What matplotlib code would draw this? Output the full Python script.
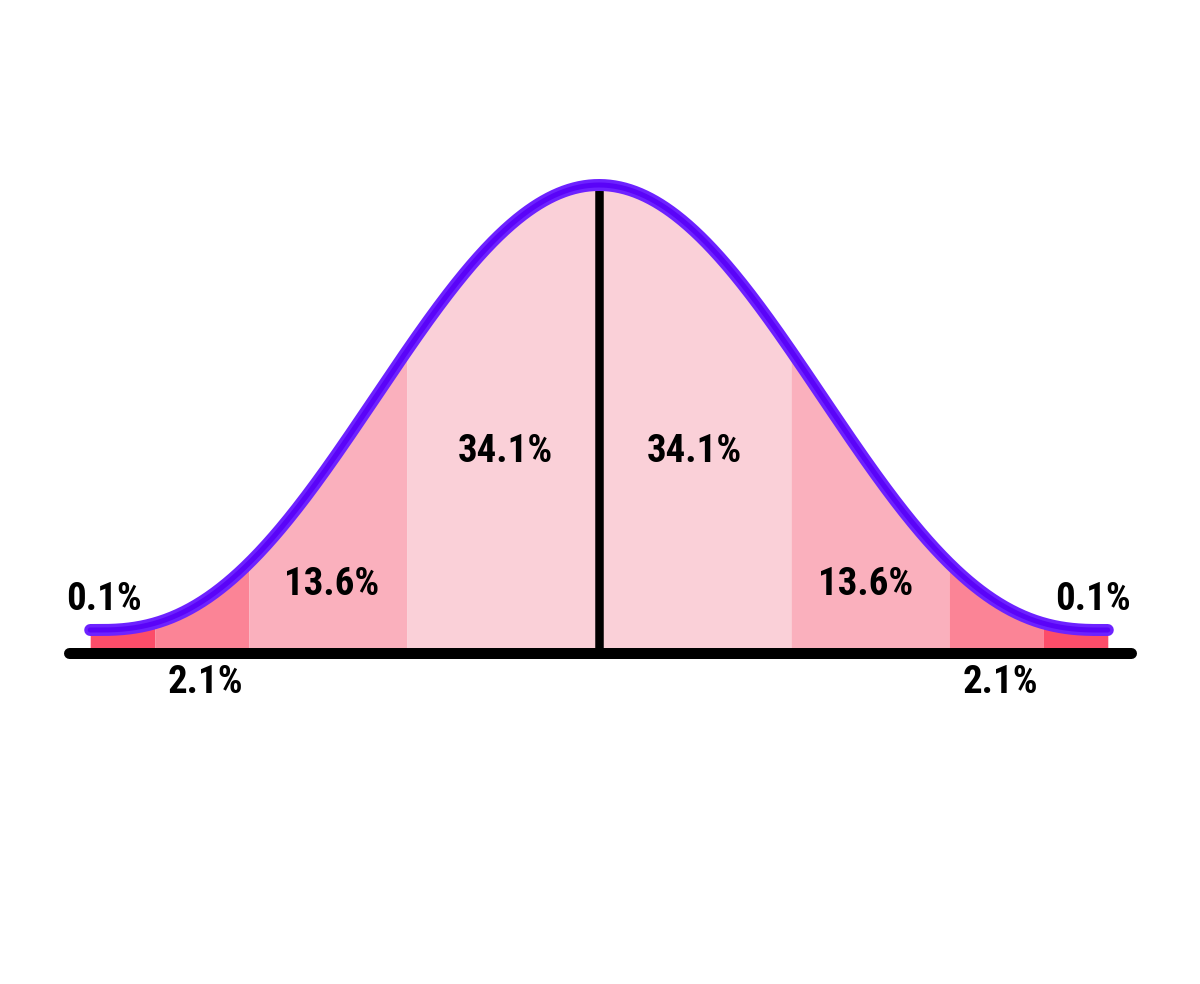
import numpy as np
import matplotlib
matplotlib.use("Agg")
import matplotlib.pyplot as plt
from matplotlib import font_manager

# ---- data ----
boundaries = [-2.65, -2.3125, -1.823, -1.0, 0.0, 1.0, 1.823, 2.3125, 2.65]
labels = ["0.1%", "2.1%", "13.6%", "34.1%", "34.1%", "13.6%", "2.1%", "0.1%"]
region_colors = ["#FC4D69", "#FB8496", "#FAB0BD", "#FAD0D8",
                 "#FAD0D8", "#FAB0BD", "#FB8496", "#FC4D69"]
# label anchor positions (z, height) for each label
label_x = [-2.58, -2.05, -1.395, -0.49, 0.495, 1.39, 2.09, 2.575]
label_y = [0.045, -0.141, 0.078, 0.377, 0.377, 0.078, -0.141, 0.045]

# stylised bell shape parameters
shape_D = 500 / 192
shape_k = 1.2


def bell(z):
    a = np.clip(np.abs(z), 0, shape_D)
    return ((1 + np.cos(np.pi * a / shape_D)) / 2) ** shape_k


W, H = 1200, 984
Y0, AMP = 630, 445
fig = plt.figure(figsize=(W / 100, H / 100), dpi=100)
ax = fig.add_axes([0, 0, 1, 1])
ax.set_xlim((0 - 599) / 192, (W - 599) / 192)
ax.set_ylim((Y0 - H) / AMP, Y0 / AMP)
ax.axis("off")

axis_h = -23 / AMP
px = 0.72  # points per pixel

for i in range(len(boundaries) - 1):
    z = np.linspace(boundaries[i], boundaries[i + 1], 200)
    ax.fill_between(z, axis_h, bell(z), color=region_colors[i], lw=0, zorder=1)

# center line
ax.plot([0, 0], [axis_h, bell(0)], color="black", lw=8.5 * px, zorder=2,
        solid_capstyle="butt")

# baseline axis
ax.plot([-2.76, 2.77], [axis_h, axis_h], color="black", lw=11 * px, zorder=3,
        solid_capstyle="round")

# bell curve (two-tone)
zz = np.linspace(boundaries[0], boundaries[-1], 1000)
ax.plot(zz, bell(zz), color="#6D22FF", lw=12 * px, zorder=4,
        solid_capstyle="round")
ax.plot(zz, bell(zz), color="#5A04F8", lw=5 * px, zorder=5,
        solid_capstyle="round")

# pick a condensed bold face if one is installed, else Roboto
names = {f.name for f in font_manager.fontManager.ttflist}
fam = ["Roboto", "DejaVu Sans"]
fsize = 26
stretch = "normal"
for cand in ["Roboto Condensed", "Liberation Sans Narrow"]:
    if cand in names:
        fam = [cand, "DejaVu Sans"]
        fsize = 28
        break

for x, y, t in zip(label_x, label_y, labels):
    ax.text(x, y, t, ha="center", va="baseline", fontsize=fsize,
            fontweight="bold", family=fam, color="black", zorder=6)

fig.savefig("out.png", dpi=100, facecolor="white")
